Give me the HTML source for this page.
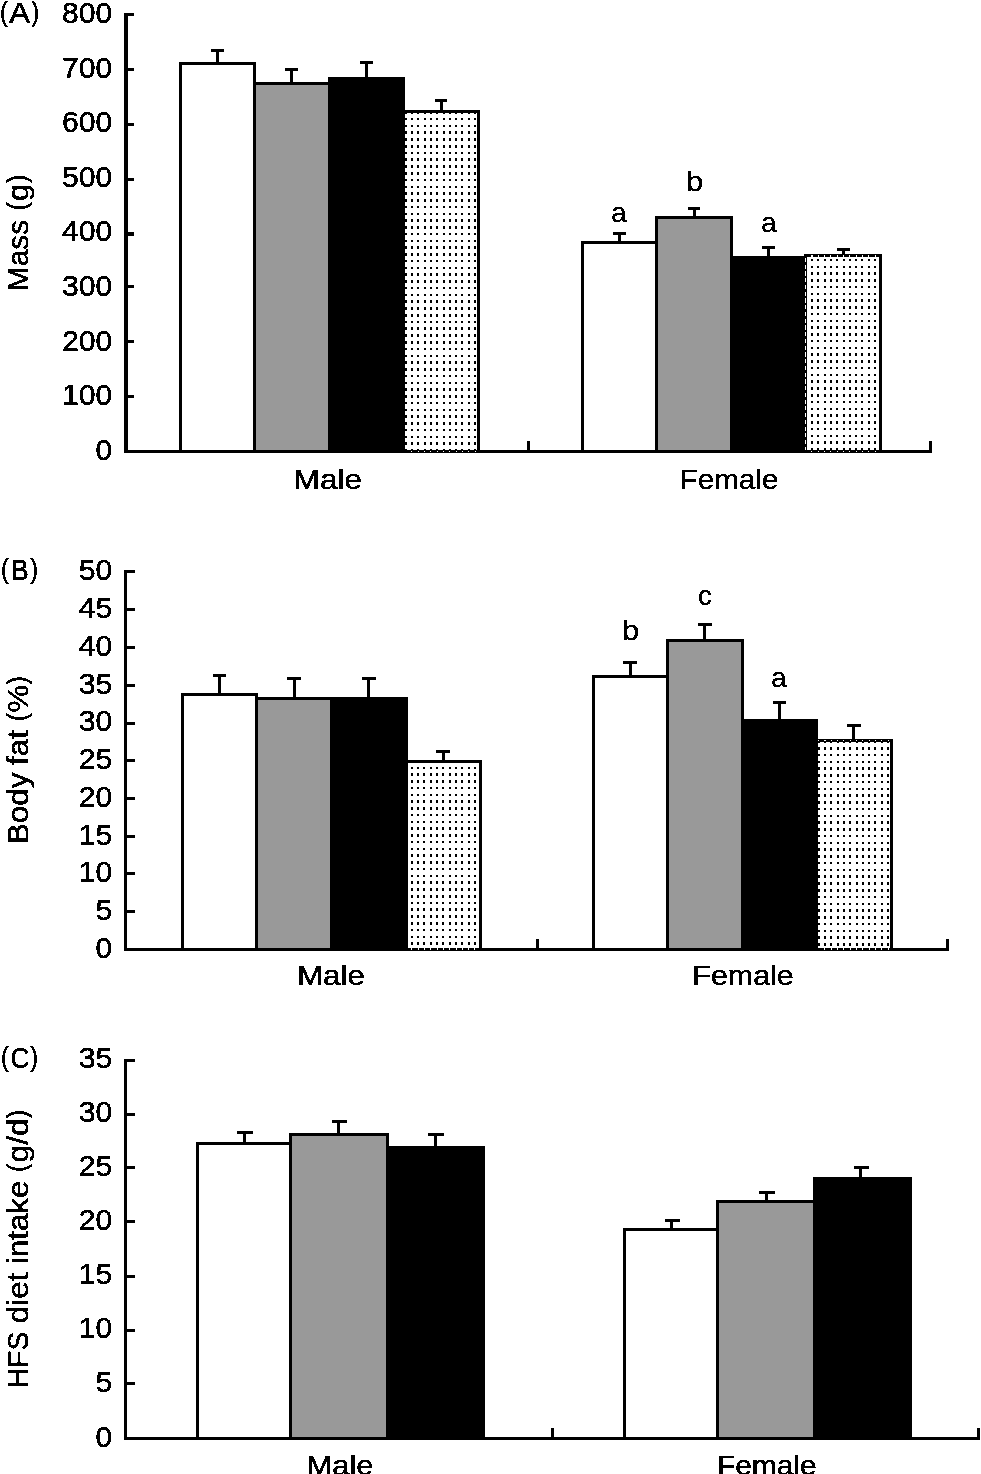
<!DOCTYPE html>
<html lang="en"><head><meta charset="utf-8"><title>Figure</title>
<style>
html,body{margin:0;padding:0;background:#fff;}
body{width:981px;height:1474px;overflow:hidden;}
svg{display:block;font-family:"Liberation Sans", sans-serif;fill:#000;}
text{stroke:#000;stroke-width:0.45px;filter:url(#bw);}
</style></head><body>
<svg width="981" height="1474" viewBox="0 0 981 1474" shape-rendering="crispEdges">
<defs>
<filter id="bw" x="-5%" y="-5%" width="110%" height="110%" color-interpolation-filters="sRGB"><feComponentTransfer><feFuncA type="discrete" tableValues="0 1"/></feComponentTransfer></filter>

</defs>
<rect x="0" y="0" width="981" height="1474" fill="#fff"/>
<rect x="179.00" y="62.00" width="77.00" height="389.50" fill="#000"/>
<rect x="182.00" y="65.00" width="71.00" height="386.50" fill="#fff"/>
<rect x="253.00" y="82.00" width="77.00" height="369.50" fill="#000"/>
<rect x="256.00" y="85.00" width="74.00" height="366.50" fill="#999999"/>
<rect x="328.00" y="77.00" width="77.00" height="374.50" fill="#000"/>
<rect x="405.00" y="110.00" width="75.00" height="341.50" fill="#000"/>
<rect x="405.00" y="113.00" width="72.00" height="338.50" fill="#fff"/>
<path d="M405.58,111.16V451.50M411.90,111.16V451.50M418.22,111.16V451.50M424.54,111.16V451.50M430.86,111.16V451.50M437.18,111.16V451.50M443.50,111.16V451.50M449.82,111.16V451.50M456.14,111.16V451.50M462.46,111.16V451.50M468.78,111.16V451.50M475.10,111.16V451.50" fill="none" stroke="#000" stroke-width="2.0" stroke-dasharray="2.55 4.21"/>
<rect x="211.00" y="49.00" width="13.00" height="3.00" fill="#000"/>
<rect x="216.00" y="49.00" width="3.00" height="14.20" fill="#000"/>
<rect x="285.00" y="68.00" width="13.00" height="3.00" fill="#000"/>
<rect x="290.00" y="68.00" width="3.00" height="15.30" fill="#000"/>
<rect x="360.00" y="61.00" width="13.00" height="3.00" fill="#000"/>
<rect x="365.00" y="61.00" width="3.00" height="17.10" fill="#000"/>
<rect x="435.00" y="99.00" width="12.00" height="3.00" fill="#000"/>
<rect x="440.00" y="99.00" width="3.00" height="12.20" fill="#000"/>
<rect x="581.00" y="241.00" width="77.00" height="210.50" fill="#000"/>
<rect x="584.00" y="244.00" width="71.00" height="207.50" fill="#fff"/>
<rect x="655.00" y="216.00" width="78.00" height="235.50" fill="#000"/>
<rect x="658.00" y="219.00" width="72.00" height="232.50" fill="#999999"/>
<rect x="733.00" y="256.00" width="72.00" height="195.50" fill="#000"/>
<rect x="804.00" y="254.00" width="78.00" height="197.50" fill="#000"/>
<rect x="807.00" y="257.00" width="72.00" height="194.50" fill="#fff"/>
<path d="M811.90,258.78V451.50M818.22,258.78V451.50M824.54,258.78V451.50M830.86,258.78V451.50M837.18,258.78V451.50M843.50,258.78V451.50M849.82,258.78V451.50M856.14,258.78V451.50M862.46,258.78V451.50M868.78,258.78V451.50M875.10,258.78V451.50" fill="none" stroke="#000" stroke-width="2.0" stroke-dasharray="2.55 4.21"/>
<path d="M811.30,256.10H879.00" fill="none" stroke="#fff" stroke-width="1.6" stroke-dasharray="1.2 5.12"/>
<path d="M805.50,258.00V449.50" fill="none" stroke="#fff" stroke-width="1" stroke-dasharray="4.2 2.54"/>
<rect x="613.00" y="232.00" width="13.00" height="3.00" fill="#000"/>
<rect x="618.00" y="232.00" width="3.00" height="10.10" fill="#000"/>
<rect x="688.00" y="207.00" width="12.00" height="3.00" fill="#000"/>
<rect x="693.00" y="207.00" width="3.00" height="10.20" fill="#000"/>
<rect x="762.00" y="246.00" width="13.00" height="3.00" fill="#000"/>
<rect x="767.00" y="246.00" width="3.00" height="11.00" fill="#000"/>
<rect x="837.00" y="248.00" width="13.00" height="3.00" fill="#000"/>
<rect x="842.00" y="248.00" width="3.00" height="6.70" fill="#000"/>
<text font-size="28.8" text-anchor="end" transform="translate(112.2 459.9) scale(1.0427 1)">0</text>
<text font-size="28.8" text-anchor="end" transform="translate(112.2 405.3) scale(1.0448 1)">100</text>
<text font-size="28.8" text-anchor="end" transform="translate(112.2 350.6) scale(1.0448 1)">200</text>
<text font-size="28.8" text-anchor="end" transform="translate(112.2 296.0) scale(1.0448 1)">300</text>
<text font-size="28.8" text-anchor="end" transform="translate(112.2 241.4) scale(1.0448 1)">400</text>
<text font-size="28.8" text-anchor="end" transform="translate(112.2 186.8) scale(1.0448 1)">500</text>
<text font-size="28.8" text-anchor="end" transform="translate(112.2 132.2) scale(1.0448 1)">600</text>
<text font-size="28.8" text-anchor="end" transform="translate(112.2 77.5) scale(1.0448 1)">700</text>
<text font-size="28.8" text-anchor="end" transform="translate(112.2 22.9) scale(1.0448 1)">800</text>
<text y="22.8" font-size="29.4"><tspan x="-0.09999999999999998" dy="-1.9" font-size="27.2" textLength="7.7" lengthAdjust="spacingAndGlyphs">(</tspan><tspan x="8.9" dy="1.9" textLength="21.2" lengthAdjust="spacingAndGlyphs">A</tspan><tspan x="31.400000000000002" dy="-1.9" font-size="27.2" textLength="7.7" lengthAdjust="spacingAndGlyphs">)</tspan></text>
<text font-size="29.4" transform="translate(28.2 300) rotate(-90)" xml:space="preserve"><tspan x="8.80" y="0" textLength="71.30" lengthAdjust="spacingAndGlyphs">Mass</tspan> <tspan x="89.45" y="-1.9" font-size="27.2" textLength="8.45" lengthAdjust="spacingAndGlyphs">(</tspan><tspan x="98.90" y="0" textLength="17.15" lengthAdjust="spacingAndGlyphs">g</tspan><tspan x="117.10" y="-1.9" font-size="27.2" textLength="8.45" lengthAdjust="spacingAndGlyphs">)</tspan></text>
<text font-size="28.3" text-anchor="start" transform="translate(293.6 489) scale(1.1150 1)">Male</text>
<text font-size="28.3" text-anchor="start" transform="translate(679.6 489) scale(1.0471 1)">Female</text>
<text font-size="27.6" text-anchor="start" transform="translate(611.2 221.5)" style="stroke-width:0.32px">a</text>
<text font-size="27.6" text-anchor="start" transform="translate(686.0 190.6) scale(1.1198 1)" style="stroke-width:0.32px">b</text>
<text font-size="27.6" text-anchor="start" transform="translate(761.3 232.4)" style="stroke-width:0.32px">a</text>
<rect x="181.00" y="693.00" width="77.00" height="256.40" fill="#000"/>
<rect x="184.00" y="696.00" width="71.00" height="253.40" fill="#fff"/>
<rect x="255.00" y="697.00" width="76.00" height="252.40" fill="#000"/>
<rect x="258.00" y="700.00" width="73.00" height="249.40" fill="#999999"/>
<rect x="330.00" y="697.00" width="78.00" height="252.40" fill="#000"/>
<rect x="408.00" y="760.00" width="74.00" height="189.40" fill="#000"/>
<rect x="408.00" y="763.00" width="71.00" height="186.40" fill="#fff"/>
<path d="M411.80,766.52V949.40M418.12,766.52V949.40M424.44,766.52V949.40M430.76,766.52V949.40M437.08,766.52V949.40M443.40,766.52V949.40M449.72,766.52V949.40M456.04,766.52V949.40M462.36,766.52V949.40M468.68,766.52V949.40M475.00,766.52V949.40" fill="none" stroke="#000" stroke-width="2.0" stroke-dasharray="2.55 4.21"/>
<rect x="213.00" y="674.00" width="13.00" height="3.00" fill="#000"/>
<rect x="218.00" y="674.00" width="3.00" height="20.30" fill="#000"/>
<rect x="287.00" y="677.00" width="14.00" height="3.00" fill="#000"/>
<rect x="293.00" y="677.00" width="3.00" height="21.40" fill="#000"/>
<rect x="362.00" y="677.00" width="14.00" height="3.00" fill="#000"/>
<rect x="367.00" y="677.00" width="3.00" height="21.40" fill="#000"/>
<rect x="436.00" y="750.00" width="14.00" height="3.00" fill="#000"/>
<rect x="442.00" y="750.00" width="3.00" height="11.50" fill="#000"/>
<rect x="592.00" y="675.00" width="77.00" height="274.40" fill="#000"/>
<rect x="595.00" y="678.00" width="71.00" height="271.40" fill="#fff"/>
<rect x="666.00" y="639.00" width="78.00" height="310.40" fill="#000"/>
<rect x="669.00" y="642.00" width="72.00" height="307.40" fill="#999999"/>
<rect x="744.00" y="719.00" width="74.00" height="230.40" fill="#000"/>
<rect x="818.00" y="739.00" width="75.00" height="210.40" fill="#000"/>
<rect x="818.00" y="742.00" width="72.00" height="207.40" fill="#fff"/>
<path d="M818.58,740.26V949.40M824.90,740.26V949.40M831.22,740.26V949.40M837.54,740.26V949.40M843.86,740.26V949.40M850.18,740.26V949.40M856.50,740.26V949.40M862.82,740.26V949.40M869.14,740.26V949.40M875.46,740.26V949.40M881.78,740.26V949.40M888.10,740.26V949.40" fill="none" stroke="#000" stroke-width="2.0" stroke-dasharray="2.55 4.21"/>
<path d="M817.98,740.55H890.00" fill="none" stroke="#fff" stroke-width="1.3" stroke-dasharray="1.2 5.12"/>
<rect x="623.00" y="661.00" width="14.00" height="3.00" fill="#000"/>
<rect x="629.00" y="661.00" width="3.00" height="15.00" fill="#000"/>
<rect x="698.00" y="623.00" width="14.00" height="3.00" fill="#000"/>
<rect x="703.00" y="623.00" width="3.00" height="17.30" fill="#000"/>
<rect x="773.00" y="701.00" width="13.00" height="3.00" fill="#000"/>
<rect x="778.00" y="701.00" width="3.00" height="19.00" fill="#000"/>
<rect x="847.00" y="724.00" width="14.00" height="3.00" fill="#000"/>
<rect x="852.00" y="724.00" width="3.00" height="16.00" fill="#000"/>
<text font-size="28.8" text-anchor="end" transform="translate(112.2 957.7) scale(1.0427 1)">0</text>
<text font-size="28.8" text-anchor="end" transform="translate(112.2 920.0) scale(1.0427 1)">5</text>
<text font-size="28.8" text-anchor="end" transform="translate(112.2 882.2) scale(1.0459 1)">10</text>
<text font-size="28.8" text-anchor="end" transform="translate(112.2 844.5) scale(1.0459 1)">15</text>
<text font-size="28.8" text-anchor="end" transform="translate(112.2 806.8) scale(1.0459 1)">20</text>
<text font-size="28.8" text-anchor="end" transform="translate(112.2 769.1) scale(1.0459 1)">25</text>
<text font-size="28.8" text-anchor="end" transform="translate(112.2 731.3) scale(1.0459 1)">30</text>
<text font-size="28.8" text-anchor="end" transform="translate(112.2 693.6) scale(1.0459 1)">35</text>
<text font-size="28.8" text-anchor="end" transform="translate(112.2 655.9) scale(1.0459 1)">40</text>
<text font-size="28.8" text-anchor="end" transform="translate(112.2 618.2) scale(1.0459 1)">45</text>
<text font-size="28.8" text-anchor="end" transform="translate(112.2 580.4) scale(1.0459 1)">50</text>
<text y="579.9" font-size="29.4"><tspan x="1.0" dy="-1.9" font-size="27.2" textLength="7.7" lengthAdjust="spacingAndGlyphs">(</tspan><tspan x="10.9" dy="1.9" textLength="17.7" lengthAdjust="spacingAndGlyphs">B</tspan><tspan x="30.3" dy="-1.9" font-size="27.2" textLength="7.7" lengthAdjust="spacingAndGlyphs">)</tspan></text>
<text font-size="29.4" transform="translate(28.2 860) rotate(-90)" xml:space="preserve"><tspan x="15.70" y="0" textLength="71.80" lengthAdjust="spacingAndGlyphs">Body</tspan> <tspan x="95.00" y="0" textLength="35.00" lengthAdjust="spacingAndGlyphs">fat</tspan> <tspan x="138.65" y="-1.9" font-size="27.2" textLength="8.45" lengthAdjust="spacingAndGlyphs">(</tspan><tspan x="147.60" y="0" textLength="27.70" lengthAdjust="spacingAndGlyphs">%</tspan><tspan x="175.60" y="-1.9" font-size="27.2" textLength="8.45" lengthAdjust="spacingAndGlyphs">)</tspan></text>
<text font-size="28.3" text-anchor="start" transform="translate(297 984.6) scale(1.1085 1)">Male</text>
<text font-size="28.3" text-anchor="start" transform="translate(692.3 984.6) scale(1.0757 1)">Female</text>
<text font-size="27.6" text-anchor="start" transform="translate(622.0 639.8) scale(1.1198 1)" style="stroke-width:0.32px">b</text>
<text font-size="27.6" text-anchor="start" transform="translate(698 604.9)" style="stroke-width:0.32px">c</text>
<text font-size="27.6" text-anchor="start" transform="translate(771.3 686.8)" style="stroke-width:0.32px">a</text>
<rect x="196.00" y="1142.00" width="96.00" height="296.40" fill="#000"/>
<rect x="199.00" y="1145.00" width="90.00" height="293.40" fill="#fff"/>
<rect x="289.00" y="1133.00" width="100.00" height="305.40" fill="#000"/>
<rect x="292.00" y="1136.00" width="94.00" height="302.40" fill="#999999"/>
<rect x="389.00" y="1146.00" width="96.00" height="292.40" fill="#000"/>
<rect x="237.00" y="1131.00" width="16.00" height="3.00" fill="#000"/>
<rect x="243.00" y="1131.00" width="3.00" height="12.30" fill="#000"/>
<rect x="332.00" y="1120.00" width="15.00" height="3.00" fill="#000"/>
<rect x="337.00" y="1120.00" width="3.00" height="14.30" fill="#000"/>
<rect x="428.00" y="1133.00" width="16.00" height="3.00" fill="#000"/>
<rect x="434.00" y="1133.00" width="3.00" height="13.80" fill="#000"/>
<rect x="623.00" y="1228.00" width="96.00" height="210.40" fill="#000"/>
<rect x="626.00" y="1231.00" width="90.00" height="207.40" fill="#fff"/>
<rect x="716.00" y="1200.00" width="97.00" height="238.40" fill="#000"/>
<rect x="719.00" y="1203.00" width="94.00" height="235.40" fill="#999999"/>
<rect x="813.00" y="1177.00" width="99.00" height="261.40" fill="#000"/>
<rect x="665.00" y="1219.00" width="15.00" height="3.00" fill="#000"/>
<rect x="670.00" y="1219.00" width="3.00" height="10.00" fill="#000"/>
<rect x="759.00" y="1191.00" width="16.00" height="3.00" fill="#000"/>
<rect x="765.00" y="1191.00" width="3.00" height="10.30" fill="#000"/>
<rect x="854.00" y="1166.00" width="15.00" height="3.00" fill="#000"/>
<rect x="859.00" y="1166.00" width="3.00" height="12.00" fill="#000"/>
<text font-size="28.8" text-anchor="end" transform="translate(112.2 1446.5) scale(1.0427 1)">0</text>
<text font-size="28.8" text-anchor="end" transform="translate(112.2 1392.4) scale(1.0427 1)">5</text>
<text font-size="28.8" text-anchor="end" transform="translate(112.2 1338.3) scale(1.0459 1)">10</text>
<text font-size="28.8" text-anchor="end" transform="translate(112.2 1284.2) scale(1.0459 1)">15</text>
<text font-size="28.8" text-anchor="end" transform="translate(112.2 1230.1) scale(1.0459 1)">20</text>
<text font-size="28.8" text-anchor="end" transform="translate(112.2 1176.1) scale(1.0459 1)">25</text>
<text font-size="28.8" text-anchor="end" transform="translate(112.2 1122.0) scale(1.0459 1)">30</text>
<text font-size="28.8" text-anchor="end" transform="translate(112.2 1067.9) scale(1.0459 1)">35</text>
<text y="1067.8" font-size="29.4"><tspan x="1.0" dy="-1.9" font-size="27.2" textLength="7.7" lengthAdjust="spacingAndGlyphs">(</tspan><tspan x="10.6" dy="1.9" textLength="18.8" lengthAdjust="spacingAndGlyphs">C</tspan><tspan x="30.3" dy="-1.9" font-size="27.2" textLength="7.7" lengthAdjust="spacingAndGlyphs">)</tspan></text>
<text font-size="29.4" transform="translate(28.2 1400) rotate(-90)" xml:space="preserve"><tspan x="11.50" y="0" textLength="56.90" lengthAdjust="spacingAndGlyphs">HFS</tspan> <tspan x="76.70" y="0" textLength="50.70" lengthAdjust="spacingAndGlyphs">diet</tspan> <tspan x="136.10" y="0" textLength="83.20" lengthAdjust="spacingAndGlyphs">intake</tspan> <tspan x="227.95" y="-1.9" font-size="27.2" textLength="8.45" lengthAdjust="spacingAndGlyphs">(</tspan><tspan x="237.60" y="0" textLength="44.10" lengthAdjust="spacingAndGlyphs">g/d</tspan><tspan x="281.70" y="-1.9" font-size="27.2" textLength="8.45" lengthAdjust="spacingAndGlyphs">)</tspan></text>
<text font-size="28.3" text-anchor="start" transform="translate(306.6 1474.9) scale(1.0889 1)">Male</text>
<text font-size="28.3" text-anchor="start" transform="translate(717 1474.9) scale(1.0545 1)">Female</text>
<rect x="124.00" y="13.00" width="4.00" height="440.00" fill="#000"/>
<rect x="124.00" y="450.00" width="808.00" height="3.00" fill="#000"/>
<rect x="128.00" y="13.00" width="6.00" height="3.00" fill="#000"/>
<rect x="128.00" y="68.00" width="6.00" height="3.00" fill="#000"/>
<rect x="128.00" y="123.00" width="6.00" height="3.00" fill="#000"/>
<rect x="128.00" y="178.00" width="6.00" height="3.00" fill="#000"/>
<rect x="128.00" y="232.00" width="6.00" height="3.00" fill="#000"/>
<rect x="128.00" y="233.00" width="6.00" height="3.00" fill="#000"/>
<rect x="128.00" y="285.00" width="6.00" height="3.00" fill="#000"/>
<rect x="128.00" y="340.00" width="6.00" height="3.00" fill="#000"/>
<rect x="128.00" y="395.00" width="6.00" height="3.00" fill="#000"/>
<rect x="527.00" y="441.00" width="3.00" height="12.00" fill="#000"/>
<rect x="929.00" y="441.00" width="3.00" height="12.00" fill="#000"/>
<rect x="124.00" y="570.00" width="3.00" height="381.00" fill="#000"/>
<rect x="124.00" y="948.00" width="825.00" height="3.00" fill="#000"/>
<rect x="127.00" y="570.00" width="8.00" height="3.00" fill="#000"/>
<rect x="127.00" y="910.00" width="8.00" height="3.00" fill="#000"/>
<rect x="127.00" y="872.00" width="8.00" height="3.00" fill="#000"/>
<rect x="127.00" y="835.00" width="8.00" height="3.00" fill="#000"/>
<rect x="127.00" y="797.00" width="8.00" height="3.00" fill="#000"/>
<rect x="127.00" y="759.00" width="8.00" height="3.00" fill="#000"/>
<rect x="127.00" y="722.00" width="8.00" height="3.00" fill="#000"/>
<rect x="127.00" y="684.00" width="8.00" height="3.00" fill="#000"/>
<rect x="127.00" y="646.00" width="8.00" height="3.00" fill="#000"/>
<rect x="127.00" y="608.00" width="8.00" height="3.00" fill="#000"/>
<rect x="536.00" y="939.00" width="3.00" height="12.00" fill="#000"/>
<rect x="946.00" y="939.00" width="3.00" height="12.00" fill="#000"/>
<rect x="124.00" y="1059.00" width="3.00" height="381.00" fill="#000"/>
<rect x="124.00" y="1437.00" width="856.00" height="3.00" fill="#000"/>
<rect x="127.00" y="1382.00" width="8.00" height="3.00" fill="#000"/>
<rect x="127.00" y="1329.00" width="8.00" height="3.00" fill="#000"/>
<rect x="127.00" y="1275.00" width="8.00" height="3.00" fill="#000"/>
<rect x="127.00" y="1220.00" width="8.00" height="3.00" fill="#000"/>
<rect x="127.00" y="1166.00" width="8.00" height="3.00" fill="#000"/>
<rect x="127.00" y="1113.00" width="8.00" height="3.00" fill="#000"/>
<rect x="127.00" y="1059.00" width="8.00" height="3.00" fill="#000"/>
<rect x="551.00" y="1428.00" width="3.00" height="12.00" fill="#000"/>
<rect x="977.00" y="1428.00" width="3.00" height="12.00" fill="#000"/>
<rect x="411" y="451" width="1" height="1" fill="#fff"/>
<rect x="418" y="451" width="1" height="1" fill="#fff"/>
<rect x="424" y="451" width="1" height="1" fill="#fff"/>
<rect x="430" y="451" width="1" height="1" fill="#fff"/>
<rect x="437" y="451" width="1" height="1" fill="#fff"/>
<rect x="443" y="451" width="1" height="1" fill="#fff"/>
<rect x="449" y="451" width="1" height="1" fill="#fff"/>
<rect x="456" y="451" width="1" height="1" fill="#fff"/>
<rect x="462" y="451" width="1" height="1" fill="#fff"/>
<rect x="468" y="451" width="1" height="1" fill="#fff"/>
<rect x="475" y="451" width="1" height="1" fill="#fff"/>
<rect x="811" y="451" width="1" height="1" fill="#fff"/>
<rect x="818" y="451" width="1" height="1" fill="#fff"/>
<rect x="824" y="451" width="1" height="1" fill="#fff"/>
<rect x="830" y="451" width="1" height="1" fill="#fff"/>
<rect x="837" y="451" width="1" height="1" fill="#fff"/>
<rect x="843" y="451" width="1" height="1" fill="#fff"/>
<rect x="849" y="451" width="1" height="1" fill="#fff"/>
<rect x="856" y="451" width="1" height="1" fill="#fff"/>
<rect x="862" y="451" width="1" height="1" fill="#fff"/>
<rect x="868" y="451" width="1" height="1" fill="#fff"/>
<rect x="875" y="451" width="1" height="1" fill="#fff"/>
<rect x="411" y="948" width="1" height="2" fill="#fff"/>
<rect x="418" y="948" width="1" height="2" fill="#fff"/>
<rect x="424" y="948" width="1" height="2" fill="#fff"/>
<rect x="430" y="948" width="1" height="2" fill="#fff"/>
<rect x="437" y="948" width="1" height="2" fill="#fff"/>
<rect x="443" y="948" width="1" height="2" fill="#fff"/>
<rect x="449" y="948" width="1" height="2" fill="#fff"/>
<rect x="456" y="948" width="1" height="2" fill="#fff"/>
<rect x="462" y="948" width="1" height="2" fill="#fff"/>
<rect x="468" y="948" width="1" height="2" fill="#fff"/>
<rect x="474" y="948" width="1" height="2" fill="#fff"/>
<rect x="824" y="948" width="1" height="2" fill="#fff"/>
<rect x="831" y="948" width="1" height="2" fill="#fff"/>
<rect x="837" y="948" width="1" height="2" fill="#fff"/>
<rect x="843" y="948" width="1" height="2" fill="#fff"/>
<rect x="850" y="948" width="1" height="2" fill="#fff"/>
<rect x="856" y="948" width="1" height="2" fill="#fff"/>
<rect x="862" y="948" width="1" height="2" fill="#fff"/>
<rect x="869" y="948" width="1" height="2" fill="#fff"/>
<rect x="875" y="948" width="1" height="2" fill="#fff"/>
<rect x="881" y="948" width="1" height="2" fill="#fff"/>
<rect x="888" y="948" width="1" height="2" fill="#fff"/>
</svg>
</body></html>
